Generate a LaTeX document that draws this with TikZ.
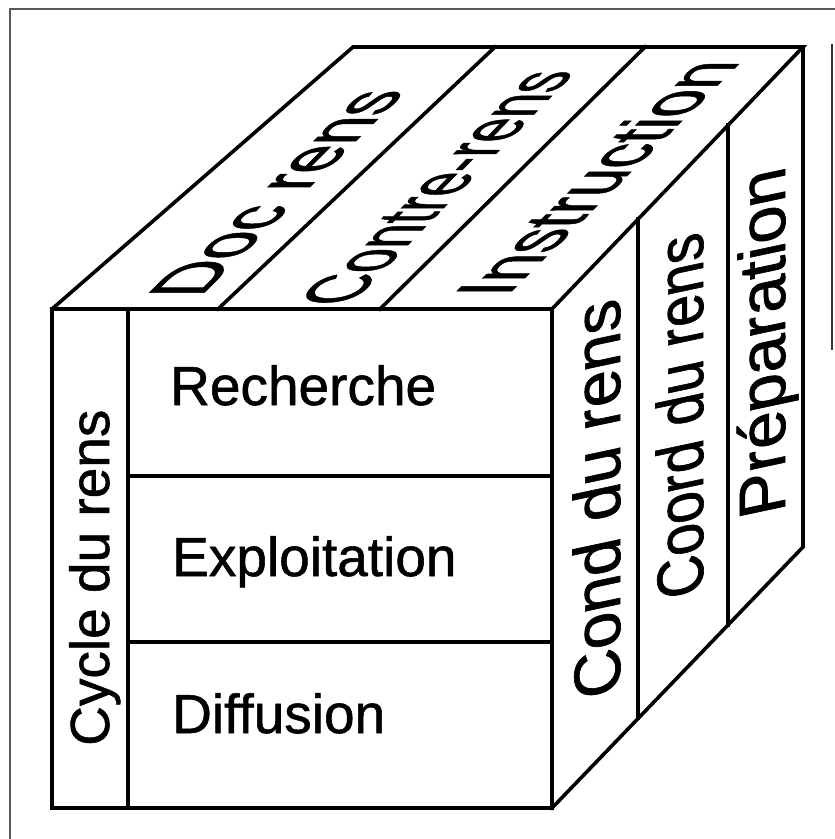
\documentclass[tikz,border=0pt]{standalone}
\usepackage{fontspec}
\setmainfont{Liberation Sans}
\newfontfamily\cubefont{Liberation Sans}[FakeBold=1.0]
\usetikzlibrary{calc}
\begin{document}
\begin{tikzpicture}[x=1pt,y=-1pt,
  edge/.style={line width=3.6pt, line join=miter, line cap=rect},
  lbl/.style={inner sep=0pt, anchor=base west, font=\cubefont\fontsize{55}{60}\selectfont},
  frameline/.style={line width=1.3pt, draw=black!65}]
\useasboundingbox (0,0) rectangle (835,839);
% frame
\draw[frameline] (10,839) -- (10,9) -- (835,9);
\draw[line width=2.2pt, draw=black!80] (832,44) -- (832,350);
% cube corners
\coordinate (FTL) at (52,309);
\coordinate (FTR) at (552,309);
\coordinate (FBL) at (52,808);
\coordinate (FBR) at (552,808);
\coordinate (BTL) at (353,47);
\coordinate (BTR) at (803,47);
\coordinate (BBR) at (803,547);
% front face
\draw[edge] (FTL) -- (FTR) -- (FBR) -- (FBL) -- cycle;
\draw[edge] (128,309) -- (128,808);
\draw[edge] (128,476) -- (552,476);
\draw[edge] (128,642) -- (552,642);
% top face
\draw[edge] (FTL) -- (BTL) -- (BTR) -- (FTR);
\draw[edge] (218,309) -- (495,47);
\draw[edge] (380,309) -- (645,47);
% right face
\draw[edge] (BTR) -- (BBR) -- (FBR);
\draw[edge] ($(FTR)!0.3426!(BTR)$) -- ($(FBR)!0.3426!(BBR)$);
\draw[edge] ($(FTR)!0.7012!(BTR)$) -- ($(FBR)!0.7012!(BBR)$);
% front labels
\node[lbl] (rech) at (170,405) {Recherche};
\node[lbl] (expl) at (172,576) {Exploitation};
\node[lbl] (diff) at (172,733) {Diffusion};
\node[lbl, rotate=90] (cyc) at (109,746) {Cycle du rens};
% top labels
\begin{scope}[shift={(200,297)}, cm={0.940,0.940,-1.45,0,(0,0)}]
  \node[lbl, transform shape] (doc) at (0,0) {Doc rens};
\end{scope}
\begin{scope}[shift={(350,305)}, cm={0.778,0.806,-1.45,0,(0,0)}]
  \node[lbl, transform shape] (contre) at (0,0) {Contre-rens};
\end{scope}
\begin{scope}[shift={(507,296)}, cm={0.926,0.926,-1.45,0,(0,0)}]
  \node[lbl, transform shape] (instr) at (0,0) {Instruction};
\end{scope}
% right labels
\begin{scope}[shift={(620,693)}, cm={0,1.2,-1.193,-0.254,(0,0)}]
  \node[lbl, transform shape] (cond) at (0,0) {Cond du rens};
\end{scope}
\begin{scope}[shift={(703,593)}, cm={0,1.04,-1.193,-0.254,(0,0)}]
  \node[lbl, transform shape] (coord) at (0,0) {Coord du rens};
\end{scope}
\begin{scope}[shift={(785,512)}, cm={0,1.22,-1.193,-0.254,(0,0)}]
  \node[lbl, transform shape] (prep) at (0,0) {Préparation};
\end{scope}
\end{tikzpicture}
\end{document}
